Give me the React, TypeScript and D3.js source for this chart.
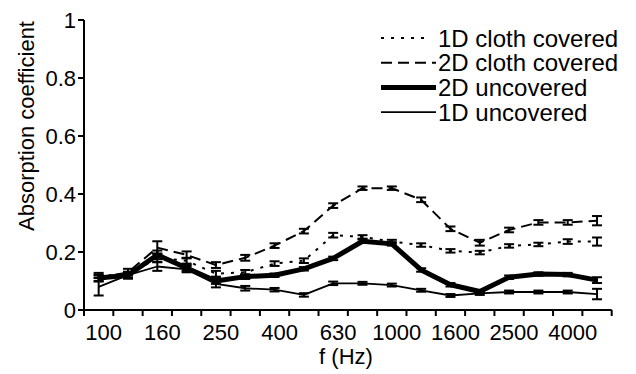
import * as d3 from "d3";

const freqs = ["100", "125", "160", "200", "250", "315", "400", "500", "630", "800", "1000", "1250", "1600", "2000", "2500", "3150", "4000", "5000"];
const shownFreqs = ["100", "160", "250", "400", "630", "1000", "1600", "2500", "4000"];
const yTicks = [0, 0.2, 0.4, 0.6, 0.8, 1];

// absorption coefficients read per band
const cloth1D = [0.12, 0.12, 0.18, 0.17, 0.125, 0.13, 0.16, 0.17, 0.258, 0.252, 0.236, 0.224, 0.204, 0.198, 0.221, 0.226, 0.236, 0.236];
const cloth1DErr = [0.008, 0.01, 0.015, 0.01, 0.01, 0.008, 0.008, 0.008, 0.008, 0.006, 0.006, 0.006, 0.006, 0.006, 0.006, 0.006, 0.008, 0.014];
const cloth2D = [0.11, 0.13, 0.215, 0.19, 0.155, 0.18, 0.222, 0.272, 0.36, 0.42, 0.42, 0.38, 0.28, 0.232, 0.276, 0.302, 0.302, 0.308];
const cloth2DErr = [0.01, 0.012, 0.022, 0.012, 0.01, 0.01, 0.008, 0.008, 0.008, 0.006, 0.006, 0.008, 0.008, 0.01, 0.008, 0.008, 0.008, 0.016];
const uncov2D = [0.11, 0.12, 0.19, 0.145, 0.1, 0.115, 0.12, 0.142, 0.178, 0.237, 0.228, 0.138, 0.087, 0.064, 0.113, 0.124, 0.122, 0.103];
const uncov2DErr = [0.012, 0.01, 0.015, 0.01, 0.01, 0.008, 0.006, 0.006, 0.006, 0.006, 0.006, 0.006, 0.006, 0.005, 0.006, 0.006, 0.006, 0.01];
const uncov1D = [0.08, 0.12, 0.15, 0.14, 0.09, 0.075, 0.07, 0.052, 0.092, 0.092, 0.086, 0.068, 0.05, 0.057, 0.062, 0.062, 0.062, 0.055];
const uncov1DErr = [0.03, 0.012, 0.015, 0.01, 0.012, 0.008, 0.006, 0.006, 0.006, 0.005, 0.005, 0.005, 0.005, 0.005, 0.005, 0.005, 0.005, 0.018];

const W = 636;
const H = 374;
const font = "'Liberation Sans', Arial, sans-serif";

const series = [
  { name: "1D cloth covered", vals: cloth1D, err: cloth1DErr, width: 2, dash: "3,7" },
  { name: "2D cloth covered", vals: cloth2D, err: cloth2DErr, width: 2, dash: "11,6" },
  { name: "2D uncovered", vals: uncov2D, err: uncov2DErr, width: 5, dash: "" },
  { name: "1D uncovered", vals: uncov1D, err: uncov1DErr, width: 1.8, dash: "" },
];

export default function App() {
  const x = d3.scaleBand<string>().domain(freqs).range([84, 611.7]).padding(0);
  const y = d3.scaleLinear().domain([0, 1]).range([310, 20]);
  const bw = x.bandwidth();
  const cx = (f: string) => (x(f) ?? 0) + bw / 2;

  const line = d3
    .line<number>()
    .x((_, i) => cx(freqs[i]))
    .y((d) => y(d));

  const edges = freqs.map((f) => x(f) ?? 0).concat([611.7]);

  return (
    <div style={{ position: "absolute", left: 0, top: 0 }}>
      <svg width={W} height={H} style={{ display: "block", background: "#fff" }} fontFamily={font}>
        {/* data lines */}
        {series.map((s) => (
          <path
            key={s.name}
            d={line(s.vals) ?? ""}
            fill="none"
            stroke="#000"
            strokeWidth={s.width}
            strokeDasharray={s.dash || undefined}
            strokeLinejoin="round"
          />
        ))}
        {/* error bars */}
        {series.map((s) =>
          s.vals.map((v, i) => {
            const px = cx(freqs[i]);
            const lo = y(v - s.err[i]);
            const hi = y(v + s.err[i]);
            return (
              <g key={s.name + i} stroke="#000" strokeWidth={2}>
                <line x1={px} x2={px} y1={lo} y2={hi} />
                <line x1={px - 5} x2={px + 5} y1={lo} y2={lo} />
                <line x1={px - 5} x2={px + 5} y1={hi} y2={hi} />
              </g>
            );
          })
        )}

        {/* y axis */}
        <line x1={84} x2={84} y1={y(1)} y2={y(0)} stroke="#000" strokeWidth={2} />
        {yTicks.map((t) => (
          <g key={t}>
            <line x1={78} x2={84} y1={y(t)} y2={y(t)} stroke="#000" strokeWidth={2} />
            <text x={76} y={y(t)} dy="0.36em" textAnchor="end" fontSize={22}>
              {d3.format("~g")(t)}
            </text>
          </g>
        ))}
        <text transform={`translate(26,126) rotate(-90)`} textAnchor="middle" dy="0.35em" fontSize={22}>
          Absorption coefficient
        </text>

        {/* x axis */}
        <line x1={83} x2={611.7} y1={310} y2={310} stroke="#000" strokeWidth={2} />
        {edges.map((e, i) => (
          <line key={i} x1={e} x2={e} y1={310} y2={316} stroke="#000" strokeWidth={2} />
        ))}
        {shownFreqs.map((f) => (
          <text key={f} x={cx(f) + 5} y={340} textAnchor="middle" fontSize={22}>
            {f}
          </text>
        ))}
        <text x={346} y={364} textAnchor="middle" fontSize={22}>
          f (Hz)
        </text>

        {/* legend */}
        {series.map((s, i) => {
          const ly = 38 + i * 24.7;
          return (
            <g key={s.name}>
              <line
                x1={381}
                x2={i === 0 ? 430 : 436}
                y1={ly}
                y2={ly}
                stroke="#000"
                strokeWidth={s.width}
                strokeDasharray={s.dash || undefined}
              />
              <text x={438} y={ly} dy="0.36em" fontSize={24}>
                {s.name}
              </text>
            </g>
          );
        })}
      </svg>
    </div>
  );
}
